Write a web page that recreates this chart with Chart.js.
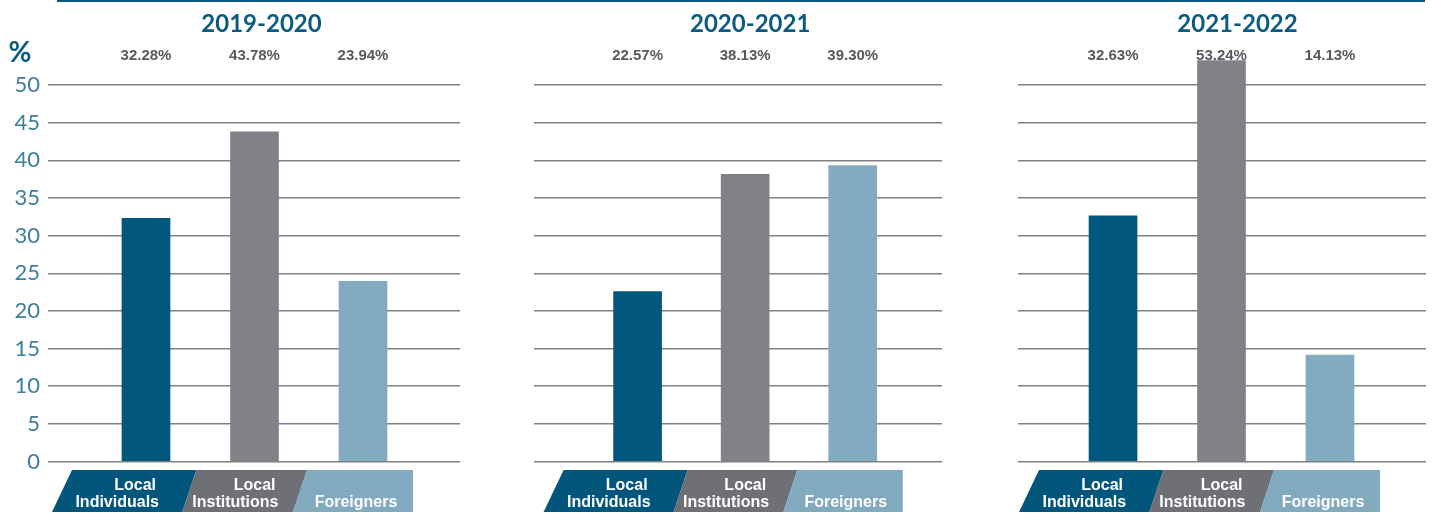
<!DOCTYPE html>
<html>
<head>
<meta charset="utf-8">
<script src="https://cdn.jsdelivr.net/npm/chart.js@4.4.1/dist/chart.umd.min.js"></script>
<style>
  html, body { margin: 0; padding: 0; background: #fff; }
  #wrap { position: relative; width: 1438px; height: 514px; overflow: hidden; }
  #topline { position: absolute; left: 57px; top: 0; width: 1368px; height: 2px; background: #0b5a80; }
  .panel { position: absolute; top: 0; height: 514px; }
</style>
</head>
<body>
<div id="wrap">
  <div id="topline"></div>
  <div class="panel" style="left:0;width:480px"><canvas id="c0"></canvas></div>
  <div class="panel" style="left:480px;width:480px"><canvas id="c1"></canvas></div>
  <div class="panel" style="left:960px;width:478px"><canvas id="c2"></canvas></div>
</div>
<script>
// Data
const periods = ['2019-2020', '2020-2021', '2021-2022'];
const investorTypes = [['Local', 'Individuals'], ['Local', 'Institutions'], ['Foreigners']];
const localIndividuals = [32.28, 22.57, 32.63];
const localInstitutions = [43.78, 38.13, 53.24];
const foreigners = [23.94, 39.30, 14.13];
const yTicks = [0, 5, 10, 15, 20, 25, 30, 35, 40, 45, 50];

// Styling
const barColors = ['#02577d', '#818287', '#82abc0'];
const bandColors = ['#02557b', '#6f7075', '#82aabf'];
const titleColor = '#0b5a80';
const tickColor = '#3d7e9b';

// Per-panel layout: canvas width, left offset of plot area, x range
const panels = [
  { width: 480, left: 48, right: 20, xMin: 0.097, xMax: 3.894, titleDx: 7 },
  { width: 480, left: 54, right: 18, xMin: 0.037, xMax: 3.83, titleDx: 5 },
  { width: 478, left: 58, right: 12, xMin: 0.124, xMax: 3.885, titleDx: 16 }
];

// titles, % labels over the bars and the slanted category band underneath
const decorations = {
  id: 'decorations',
  afterDraw(chart, args, opts) {
    const ctx = chart.ctx;
    const x = chart.scales.x;
    const meta = chart.getDatasetMeta(0);
    const centers = meta.data.map(b => b.x);
    ctx.save();

    // period title
    ctx.fillStyle = titleColor;
    ctx.font = 'bold 24px Lato';
    ctx.textAlign = 'center';
    ctx.textBaseline = 'alphabetic';
    ctx.fillText(opts.title, centers[1] + opts.titleDx, 32);

    // '%' unit marker on the first panel
    if (opts.showUnit) {
      ctx.font = 'bold 28px Lato';
      ctx.textAlign = 'center';
      ctx.fillText('%', 20, 62);
    }

    // value labels
    ctx.fillStyle = '#58595b';
    ctx.font = 'bold 15px "Liberation Sans"';
    ctx.textAlign = 'center';
    const ds = chart.data.datasets[0].data;
    ds.forEach((d, i) => {
      ctx.fillText(d.y.toFixed(2) + '%', centers[i], 60);
    });

    // category band
    const top = 470, bottom = 512, slant = 10, inner = 7;
    const px = v => x.getPixelForValue(v);
    const edges = [px(1) - 84, px(1.4), px(2.42), px(3) + 50];
    const shapes = [
      [[edges[0] + slant, top], [edges[1] + inner, top], [edges[1] - inner, bottom], [edges[0] - slant, bottom]],
      [[edges[1] + inner, top], [edges[2] + inner, top], [edges[2] - inner, bottom], [edges[1] - inner, bottom]],
      [[edges[2] + inner, top], [edges[3], top], [edges[3], bottom], [edges[2] - inner, bottom]]
    ];
    shapes.forEach((pts, i) => {
      ctx.beginPath();
      ctx.moveTo(pts[0][0], pts[0][1]);
      pts.slice(1).forEach(p => ctx.lineTo(p[0], p[1]));
      ctx.closePath();
      ctx.fillStyle = bandColors[i];
      ctx.fill();
    });

    ctx.fillStyle = '#ffffff';
    ctx.font = 'bold 16px "Liberation Sans"';
    // first two: right aligned lines
    [[0, 13], [1, 24]].forEach(([i, dx]) => {
      ctx.textAlign = 'right';
      const lines = investorTypes[i];
      ctx.fillText(lines[0], centers[i] + dx - 3, 490);
      ctx.fillText(lines[1], centers[i] + dx, 507);
    });
    ctx.textAlign = 'center';
    ctx.fillText(investorTypes[2][0], centers[2] - 7, 507);

    ctx.restore();
  }
};

periods.forEach((period, p) => {
  const cfg = panels[p];
  const canvas = document.getElementById('c' + p);
  canvas.style.width = cfg.width + 'px';
  canvas.style.height = '514px';
  const values = [localIndividuals[p], localInstitutions[p], foreigners[p]];

  new Chart(canvas, {
    type: 'bar',
    data: {
      datasets: [{
        data: values.map((v, i) => ({ x: i + 1, y: v })),
        backgroundColor: barColors,
        barThickness: 48,
        clip: false
      }]
    },
    options: {
      responsive: false,
      animation: false,
      devicePixelRatio: 1,
      layout: { padding: { top: 85, bottom: 52.5, left: 0, right: cfg.right } },
      plugins: {
        legend: { display: false },
        tooltip: { enabled: false },
        decorations: { title: period, titleDx: cfg.titleDx, showUnit: p === 0 }
      },
      scales: {
        x: {
          type: 'linear',
          min: cfg.xMin,
          max: cfg.xMax,
          offset: false,
          display: false
        },
        y: {
          min: 0,
          max: 50,
          afterBuildTicks: axis => { axis.ticks = yTicks.map(v => ({ value: v })); },
          afterFit: axis => { axis.width = cfg.left; },
          border: { display: false },
          grid: { color: '#808080', lineWidth: 1.5, drawTicks: false },
          ticks: {
            display: p === 0,
            padding: 8,
            color: tickColor,
            font: { family: 'Lato', size: 22 }
          }
        }
      }
    },
    plugins: [decorations]
  });
});
</script>
</body>
</html>
